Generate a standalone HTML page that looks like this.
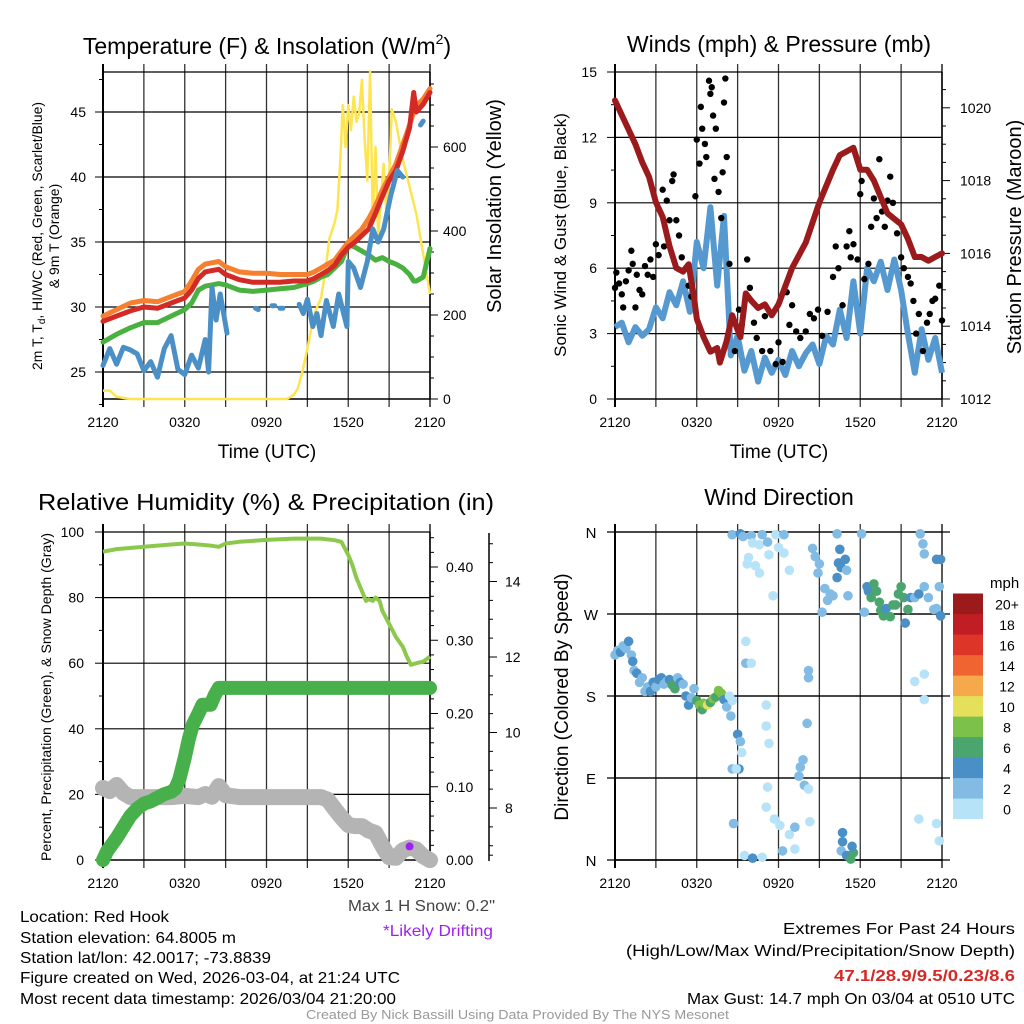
<!DOCTYPE html>
<html><head><meta charset="utf-8">
<style>
html,body{margin:0;padding:0;background:#fff;}
svg{display:block;font-family:"Liberation Sans",sans-serif;}
</style></head>
<body>
<svg id="fig" width="1024" height="1024" viewBox="0 0 1024 1024" xmlns="http://www.w3.org/2000/svg">
<rect x="0" y="0" width="1024" height="1024" fill="#fff"/>
<g id="p1"></g>
<g id="p2"></g>
<g id="p3"></g>
<g id="p4"></g>
<g id="foot">
<text x="20" y="922" font-size="16" textLength="149" lengthAdjust="spacingAndGlyphs">Location: Red Hook</text>
<text x="20" y="943" font-size="16" textLength="216" lengthAdjust="spacingAndGlyphs">Station elevation: 64.8005 m</text>
<text x="20" y="963" font-size="16" textLength="251" lengthAdjust="spacingAndGlyphs">Station lat/lon: 42.0017; -73.8839</text>
<text x="20" y="983" font-size="16" textLength="380" lengthAdjust="spacingAndGlyphs">Figure created on Wed, 2026-03-04, at 21:24 UTC</text>
<text x="20" y="1004" font-size="16" textLength="376" lengthAdjust="spacingAndGlyphs">Most recent data timestamp: 2026/03/04 21:20:00</text>
<text x="348" y="911" font-size="16" fill="#444" textLength="147" lengthAdjust="spacingAndGlyphs">Max 1 H Snow: 0.2"</text>
<text x="383" y="936" font-size="16" fill="#a020f0" textLength="110" lengthAdjust="spacingAndGlyphs">*Likely Drifting</text>
<text x="783" y="934" font-size="16" textLength="232" lengthAdjust="spacingAndGlyphs">Extremes For Past 24 Hours</text>
<text x="626" y="956" font-size="16" textLength="389" lengthAdjust="spacingAndGlyphs">(High/Low/Max Wind/Precipitation/Snow Depth)</text>
<text x="834" y="981" font-size="16" font-weight="bold" fill="#d42a26" textLength="181" lengthAdjust="spacingAndGlyphs">47.1/28.9/9.5/0.23/8.6</text>
<text x="687" y="1004" font-size="16" textLength="328" lengthAdjust="spacingAndGlyphs">Max Gust: 14.7 mph On 03/04 at 0510 UTC</text>
<text x="306" y="1019" font-size="13" fill="#999" textLength="423" lengthAdjust="spacingAndGlyphs">Created By Nick Bassill Using Data Provided By The NYS Mesonet</text>
</g>
</svg>
<script>
// ---------- DATA ----------
const xTickLabels = ["2120","0320","0920","1520","2120"];
const tHours = [0,1,2,3,4,5,6,6.5,7,7.5,8,8.5,9,10,11,12,13,14,15,15.5,16,16.5,17,17.5,18,18.5,19,19.5,20,20.5,21,21.5,22,22.5,22.8,23,23.5,24];
const tempRed = [28.9,29.3,29.7,30.0,29.9,30.3,30.7,31.3,32.2,32.7,32.8,32.9,32.5,32.1,31.9,31.9,31.9,32.0,32.0,32.2,32.5,32.8,33.2,34.0,34.6,35.0,35.5,36.0,37.2,38.5,39.7,40.5,42.0,43.8,46.5,45.0,45.6,46.5];
const temp9m = [29.3,29.8,30.3,30.5,30.4,30.8,31.2,32.0,32.9,33.3,33.4,33.5,33.1,32.7,32.6,32.6,32.5,32.5,32.5,32.7,33.0,33.3,33.6,34.3,35.0,35.5,36.0,36.8,37.8,39.0,40.0,41.0,42.5,44.0,45.0,45.5,46.0,46.8];
const tempHiWc = [27.3,27.9,28.4,28.8,28.8,29.3,29.8,30.3,31.3,31.6,31.7,31.8,31.7,31.3,31.2,31.3,31.4,31.5,31.8,32.0,32.3,32.5,33.0,33.5,34.8,34.6,34.3,34.0,33.6,33.8,33.5,33.3,33.0,32.5,32.0,32.0,32.3,34.5];
const dewHours = [0,0.5,1,1.5,2,2.5,3,3.5,4,4.5,5,5.5,6,6.5,7,7.5,7.75,8.0,8.3,8.6,9.1,9.2,11.2,11.4,11.5,12.4,12.6,12.7,13.0,13.2,13.3,14.4,14.7,15.0,15.4,15.7,16.0,16.4,16.9,17.3,17.9,18.0,18.4,18.9,19.4,19.8,20.2,20.6,21.1,21.6,22.0,22.1,23.3,23.5];
const dewTemps = [25.5,26.8,25.6,26.9,26.7,26.4,25.1,25.8,24.6,26.8,27.8,25.2,24.8,26.3,25.3,27.5,25.0,31.5,29.0,31.0,28.0,null,29.9,29.8,null,30.1,30.1,null,29.9,29.9,null,30.2,29.5,30.6,28.5,29.5,27.8,30.5,28.5,31.0,28.5,33.5,33.0,31.5,33.5,36.0,35.0,36.0,38.5,40.5,40.0,null,44.0,44.3];
const solarHours = [0,0.5,1,2,6,10,13.5,14,14.3,14.6,15,15.3,15.6,16,16.3,16.6,17,17.2,17.4,17.6,17.8,18,18.2,18.4,18.6,18.8,19,19.2,19.4,19.6,19.8,20,20.2,20.4,20.6,20.8,21,21.2,21.5,22,23,24];
const solarVals = [20,20,5,0,0,0,0,10,25,60,120,170,210,240,300,380,420,450,560,700,600,700,640,720,660,680,760,620,520,780,420,600,380,480,560,440,520,690,660,570,440,250];
const windHours = [0,0.5,1,1.5,2,2.5,3,3.5,4,4.5,5,5.5,6,6.5,7,7.5,8,8.5,9,9.5,10,10.5,11,11.5,12,12.5,13,13.5,14,14.5,15,15.5,16,16.5,17,17.5,18,18.5,19,19.5,20,20.5,21,21.5,22,22.5,23,23.5,24];
const windSustained = [3.3,3.5,2.6,3.3,2.9,3.2,4.2,3.7,4.9,4.3,5.4,4.0,7.2,6.0,8.8,5.2,8.4,2.0,2.9,1.3,2.2,0.8,1.9,1.2,1.8,1.1,2.2,1.5,2.1,2.5,1.6,2.9,2.5,4.1,2.8,5.4,3.0,6.0,5.4,6.3,5.0,6.4,5.0,3.0,1.2,3.2,1.8,2.8,1.2];
const pressHours = [0,0.5,1,1.5,2,2.5,3,3.5,4,4.5,5,5.4,5.8,6,6.5,7,7.5,7.7,8.2,8.6,9.0,9.2,9.6,10,10.5,11,11.5,12,13,14,15,16,16.5,17,17.5,18,18.5,19,20,21,21.5,22,22.5,23,23.5,24];
const pressVals = [1020.2,1019.8,1019.4,1019.0,1018.5,1018.1,1017.4,1017.0,1016.2,1015.6,1015.5,1015.7,1014.8,1014.2,1013.7,1013.3,1013.4,1013.0,1013.6,1014.3,1013.9,1013.7,1014.9,1014.7,1014.5,1014.6,1014.3,1014.6,1015.6,1016.3,1017.4,1018.3,1018.7,1018.8,1018.9,1018.3,1018.3,1018.0,1017.1,1016.8,1016.4,1015.9,1015.9,1015.8,1015.9,1016.0];
const gustHours = [0,0.1,0.3,0.5,0.6,0.8,1,1.2,1.3,1.5,1.6,1.8,2,2.2,2.4,2.6,2.8,3,3.2,3.5,3.6,3.8,4,4.2,4.3,4.5,4.7,4.9,5.2,5.4,5.6,5.9,6,6.2,6.3,6.4,6.6,6.7,6.9,7,7.1,7.2,7.4,7.3,7.6,7.8,7.9,8.0,8.1,8.2,8.4,8.6,8.8,9.1,9.3,9.7,9.9,10.2,10.4,10.8,11,11.4,11.8,12,12.3,12.6,12.8,13,13.3,13.6,14,14.3,14.6,14.9,15.2,15.6,16,16.2,16.4,16.7,17,17.2,17.3,17.5,17.8,18,18.1,18.3,18.6,18.8,19,19.2,19.4,19.6,19.8,20,20.2,20.4,20.7,21,21.2,21.5,21.7,21.9,22.1,22.3,22.6,22.9,23.1,23.3,23.5,23.8,24];
const gustSpeeds = [5.1,5.8,5.3,4.8,4.2,5.4,5.9,6.8,6.2,4.2,5.7,5.0,4.8,6.1,5.7,6.4,5.6,7.1,6.6,9.6,7.0,9.1,8.2,10.0,10.3,8.2,7.5,6.5,6.0,5.2,4.7,9.3,11.9,10.8,13.4,12.4,11.7,11.1,14.6,14.0,14.3,13.0,12.4,10.1,9.5,8.3,10.4,13.6,14.7,11.1,6.2,3.8,2.2,4.1,3.4,6.4,5.1,3.5,2.8,2.2,3.8,2.2,1.6,2.6,1.7,4.9,3.4,4.3,3.1,2.8,3.1,3.9,3.7,4.1,2.9,4.0,5.6,7.0,6.0,4.3,7.0,7.7,6.5,7.1,6.4,9.4,10.0,5.5,6.2,7.9,9.2,8.3,11.0,8.6,7.9,9.1,10.2,9.0,7.6,6.5,6.0,5.6,5.3,4.5,3.0,3.9,2.2,3.5,3.9,4.5,4.6,5.2,3.6];
const rhHours = [0,1,3,5,6,7,8,8.5,9,10,12,14,15,16,17,17.5,18,18.3,18.6,19,19.3,19.5,19.8,20,20.3,20.5,21,21.5,22,22.3,22.6,23,23.5,24];
const rhVals = [94,94.8,95.5,96.2,96.5,96.2,95.8,95.5,96.5,97,97.6,98,98,98,97.5,97,93,90,86,82,79,79.5,79,80,79,76,72,68,65,62,59.5,60,60.5,62];
const precipHours = [0,0.3,0.6,1,1.5,2,2.5,3,3.5,4,4.5,5,5.3,5.6,6,6.3,6.6,7,7.3,7.6,7.9,8.2,8.5,9,12,16,20,24];
const precipVals = [0,0.012,0.02,0.03,0.045,0.06,0.07,0.077,0.08,0.085,0.09,0.093,0.097,0.11,0.14,0.165,0.185,0.2,0.212,0.212,0.212,0.225,0.235,0.235,0.235,0.235,0.235,0.235];
const snowHours = [0,0.5,1,1.5,2,3,4,5,6,7,7.5,8,8.5,9,10,12,14,15,16,16.5,17,17.5,18,18.5,19,19.5,20,20.5,21,21.5,22,22.5,23,23.5,24];
const snowDepth = [8.53,8.45,8.61,8.40,8.29,8.29,8.29,8.29,8.32,8.29,8.37,8.30,8.58,8.34,8.29,8.29,8.29,8.29,8.29,8.22,7.98,7.75,7.55,7.52,7.52,7.40,7.34,7.00,6.70,6.68,6.88,6.95,6.90,6.72,6.62];
const dirHours = [0,0.2,0.4,0.6,0.8,1,1.2,1.3,1.4,1.6,1.8,2,2.2,2.4,2.6,2.8,3,3.2,3.4,3.6,3.8,4,4.2,4.4,4.6,4.8,5,5.2,5.4,5.6,5.8,6,6.2,6.4,6.5,6.8,7,7.2,7.4,7.6,7.8,8,8.2,8.4,8.6,8.5,9,9.2,9.3,8.6,9.1,8.9,8.7,9.5,10.1,10.8,8.6,9.2,9.4,10,10.8,11.8,12.4,10.6,11.2,11.3,10.1,9.8,9.7,10.3,10.6,11.6,12,12.4,12.8,9.6,9.6,10,11.1,11.1,11.3,11.2,11.1,11.7,12.1,12.3,12.8,13.2,13.2,13.5,13.6,13.8,13.9,14.2,14.3,14.1,14.2,14.2,14.5,14.7,15,14.9,15.4,15.6,15.8,15.2,16,16.3,16.4,16.6,16.9,17,16.5,16.3,17.1,16.7,16.7,16.6,17,17.3,17.5,17.4,18.1,18.3,18.5,18.6,18.8,19,19.2,19.4,19.5,19.7,19.9,20.2,20.4,20.6,20.8,21,21.2,21.5,21.7,21.3,22,22.3,22.7,23,23.4,23.6,23.9,23.8,22.6,22.7,22.7,22.0,22.7,22.3,23.6,23.8,23.9,23.6,22.4];
const dirDegrees = [225,230,228,235,232,240,225,218,208,205,195,200,185,190,185,195,190,198,200,193,196,198,192,188,200,195,193,180,170,178,188,175,170,165,172,170,173,177,179,186,183,176,168,180,175,158,138,130,118,100,100,100,40,5,2,3,357,358,355,356,357,357,357,346,349,335,348,332,325,323,315,290,343,337,318,240,216,216,170,147,128,80,58,45,38,10,28,36,12,92,102,110,82,78,42,150,200,208,342,333,325,315,298,285,292,272,290,310,326,321,330,318,341,358,290,20,30,10,5,1,8,15,358,272,300,295,288,303,295,283,274,268,276,267,280,280,292,300,288,275,288,260,288,292,300,288,275,276,268,300,347,336,204,196,176,45,40,21,330,330,358];
const dirSpeeds = [2,3,4,2,3,4,2,4,3,4,2,2,2,2,4,4,2,4,4,3,3,4,6,6,3,4,2,4,4,2,2,6,8,6,8,10,6,8,6,8,8,4,3,1,1,3,4,3,1,3,4,1,3,1,4,1,2,4,3,2,2,1,3,1,2,1,1,1,1,1,1,1,1,1,1,1,2,1,1,1,1,1,1,1,1,2,1,3,1,2,2,3,2,1,1,3,2,2,3,3,2,2,2,2,2,2,2,4,4,4,4,2,4,2,3,4,4,3,4,6,6,4,2,2,4,4,6,6,6,6,6,6,4,6,6,6,6,6,6,6,4,4,3,4,2,2,2,2,4,3,3,2,1,1,1,1,1,1,4,4,2,2,1];
const speedColors = ["#b6e3f8","#82bce5","#4a8fc6","#4aa56e","#7cc14a","#e5e05a","#f5a94a","#ef6430","#dd3528","#c01e24","#9b1a1c"];
const speedLabels = ["0","2","4","6","8","10","12","14","16","18","20+"];

// ---------- HELPERS ----------
const NS = "http://www.w3.org/2000/svg";
function mk(tag, attrs, name, parent){
  const el = document.createElementNS(NS, tag);
  for (const k in attrs) el.setAttribute(k, attrs[k]);
  
  
  parent.appendChild(el);
  return el;
}
function txt(s, attrs, name, parent){ const t = mk('text', attrs, name, parent); t.textContent = s; return t; }
function xScale(x0,x1){ return h => x0 + h*(x1-x0)/24; }
function pathFrom(hs, vs, fx, fy){
  let d = "", pen = false;
  for (let i=0;i<hs.length;i++){
    if (vs[i]===null){ pen=false; continue; }
    d += (pen?"L":"M") + fx(hs[i]).toFixed(1) + "," + fy(vs[i]).toFixed(1);
    pen = true;
  }
  return d;
}
function frame(g, x0, x1, y0, y1, hLines, withLabels, name){
  const fx = xScale(x0,x1);
  for (let i=0;i<=8;i++){
    const x = fx(i*3);
    mk('line',{x1:x,y1:y0-8,x2:x,y2:y1+8,stroke: (i===0||i===8)?'#000':'#333','stroke-width':(i===0)?2:1.3}, name+'-vgrid', g);
  }
  hLines.forEach(y=>{ mk('line',{x1:x0,y1:y,x2:x1,y2:y,stroke:'#000','stroke-width':1.2}, name+'-hgrid', g); });
  mk('line',{x1:x0,y1:y1,x2:x1,y2:y1,stroke:'#000','stroke-width':1.5}, name+'-x-axis', g);
  xTickLabels.forEach((lab,i)=>{
    txt(lab,{x:fx(i*6),y:y1+28,'font-size':14,'text-anchor':'middle'}, name+'-x-tick-label', g);
  });
}
function yTicks(g, x, y0, y1, vals, fy, side, len, name){
  vals.forEach(v=>{ const y = fy(v); mk('line',{x1:x,y1:y,x2:x+side*len,y2:y,stroke:'#000','stroke-width':1}, name, g); });
}

// ---------- PANEL 1 ----------
(function(){
  const g = document.getElementById('p1');
  const x0=103,x1=430,y0=72,y1=399;
  const fx = xScale(x0,x1);
  const fyT = t => 399 - (t-22.923)*13;
  const fyS = s => 399 - s*0.42;
  const tt = txt("",{x:267,y:54,'font-size':23,'text-anchor':'middle'}, 'temp-title', g);
  const ta = document.createElementNS(NS,'tspan'); ta.textContent="Temperature (F) & Insolation (W/m"; tt.appendChild(ta);
  const tb = document.createElementNS(NS,'tspan'); tb.textContent="2"; tb.setAttribute('font-size','14'); tb.setAttribute('dy','-10'); tt.appendChild(tb);
  const tc = document.createElementNS(NS,'tspan'); tc.textContent=")"; tc.setAttribute('dy','10'); tt.appendChild(tc);
  frame(g,x0,x1,y0,y1,[fyT(25),fyT(30),fyT(35),fyT(40),fyT(45),y0],true,'temp');
  yTicks(g,x0,y0,y1,[25,30,35,40,45],fyT,-1,8,'temp-major-tick');
  yTicks(g,x0,y0,y1,[22.5,27.5,32.5,37.5,42.5,47.5],fyT,-1,4,'temp-minor-tick');
  [25,30,35,40,45].forEach(v=>txt(String(v),{x:86,y:fyT(v)+5,'font-size':14,'text-anchor':'end'},'temp-y-tick-label',g));
  yTicks(g,x1,y0,y1,[0,200,400,600],fyS,1,8,'solar-major-tick');
  yTicks(g,x1,y0,y1,[50,100,150,250,300,350,450,500,550,650,700,750],fyS,1,4,'solar-minor-tick');
  [0,200,400,600].forEach(v=>txt(String(v),{x:443,y:fyS(v)+5,'font-size':14},'solar-y-tick-label',g));
  mk('line',{x1:x1,y1:y0,x2:x1,y2:y1,stroke:'#000','stroke-width':1.5},'temp-right-axis',g);
  txt("Time (UTC)",{x:267,y:458,'font-size':19,'text-anchor':'middle'},'temp-x-axis-title',g);
  const l1 = txt("",{x:0,y:0,'font-size':14,'text-anchor':'middle',transform:'translate(42,236) rotate(-90)',textLength:268,lengthAdjust:'spacingAndGlyphs'},'temp-y-axis-title',g);
  const t1 = document.createElementNS(NS,'tspan'); t1.textContent="2m T, T"; l1.appendChild(t1);
  const t2 = document.createElementNS(NS,'tspan'); t2.textContent="d"; t2.setAttribute('font-size','10'); t2.setAttribute('dy','3'); l1.appendChild(t2);
  const t3 = document.createElementNS(NS,'tspan'); t3.textContent=", HI/WC (Red, Green, Scarlet/Blue)"; t3.setAttribute('dy','-3'); l1.appendChild(t3);
  txt("& 9m T (Orange)",{x:0,y:0,'font-size':14,'text-anchor':'middle',transform:'translate(59,236) rotate(-90)'},'temp-y-axis-title-2',g);
  txt("Solar Insolation (Yellow)",{x:0,y:0,'font-size':20,'text-anchor':'middle',transform:'translate(501,206) rotate(-90)'},'solar-y-axis-title',g);
  mk('path',{d:pathFrom(solarHours,solarVals,fx,fyS),fill:'none',stroke:'#fde54f','stroke-width':2.5,'stroke-linejoin':'round'},'solar-line',g);
  mk('path',{d:pathFrom(tHours,tempHiWc,fx,fyT),fill:'none',stroke:'#4ab040','stroke-width':5,'stroke-linejoin':'round','stroke-linecap':'round'},'hiwc-line',g);
  mk('path',{d:pathFrom(tHours,temp9m,fx,fyT),fill:'none',stroke:'#f58030','stroke-width':5,'stroke-linejoin':'round','stroke-linecap':'round'},'temp-9m-line',g);
  mk('path',{d:pathFrom(tHours,tempRed,fx,fyT),fill:'none',stroke:'#d42a26','stroke-width':5,'stroke-linejoin':'round','stroke-linecap':'round'},'temp-2m-line',g);
  mk('path',{d:pathFrom(dewHours,dewTemps,fx,fyT),fill:'none',stroke:'#4a8fc6','stroke-width':5,'stroke-linejoin':'round','stroke-linecap':'round'},'dewpoint-line',g);
})();

// ---------- PANEL 2 ----------
(function(){
  const g = document.getElementById('p2');
  const x0=615,x1=942,y0=72,y1=399;
  const fx = xScale(x0,x1);
  const fyW = w => 399 - w*21.8;
  const fyP = p => 399 - (p-1012)*36.4;
  txt("Winds (mph) & Pressure (mb)",{x:779,y:52,'font-size':23,'text-anchor':'middle'},'winds-title',g);
  frame(g,x0,x1,y0,y1,[fyW(3),fyW(6),fyW(9),fyW(12),fyW(15)],true,'winds');
  yTicks(g,x0,y0,y1,[0,3,6,9,12,15],fyW,-1,8,'wind-major-tick');
  yTicks(g,x0,y0,y1,[1.5,4.5,7.5,10.5,13.5],fyW,-1,4,'wind-minor-tick');
  [0,3,6,9,12,15].forEach(v=>txt(String(v),{x:597,y:fyW(v)+5,'font-size':14,'text-anchor':'end'},'wind-y-tick-label',g));
  yTicks(g,x1,y0,y1,[1012,1014,1016,1018,1020],fyP,1,8,'pressure-major-tick');
  yTicks(g,x1,y0,y1,[1012.5,1013,1013.5,1014.5,1015,1015.5,1016.5,1017,1017.5,1018.5,1019,1019.5,1020.5],fyP,1,4,'pressure-minor-tick');
  [1012,1014,1016,1018,1020].forEach(v=>txt(String(v),{x:960,y:fyP(v)+5,'font-size':14},'pressure-y-tick-label',g));
  mk('line',{x1:x1,y1:y0,x2:x1,y2:y1,stroke:'#000','stroke-width':1.5},'winds-right-axis',g);
  txt("Time (UTC)",{x:779,y:458,'font-size':19,'text-anchor':'middle'},'winds-x-axis-title',g);
  txt("Sonic Wind & Gust (Blue, Black)",{x:0,y:0,'font-size':17,'text-anchor':'middle',transform:'translate(566,235) rotate(-90)'},'wind-y-axis-title',g);
  txt("Station Pressure (Maroon)",{x:0,y:0,'font-size':20,'text-anchor':'middle',transform:'translate(1021,237) rotate(-90)'},'pressure-y-axis-title',g);
  mk('path',{d:pathFrom(windHours,windSustained,fx,fyW),fill:'none',stroke:'#5599d0','stroke-width':6,'stroke-linejoin':'round'},'sustained-wind-line',g);
  gustHours.forEach((h,i)=>{ mk('circle',{cx:fx(h),cy:fyW(gustSpeeds[i]),r:3.2,fill:'#000'},'gust-point',g); });
  mk('path',{d:pathFrom(pressHours,pressVals,fx,fyP),fill:'none',stroke:'#9b1a1c','stroke-width':6,'stroke-linejoin':'round','stroke-linecap':'round'},'pressure-line',g);
})();

// ---------- PANEL 3 ----------
(function(){
  const g = document.getElementById('p3');
  const x0=103,x1=430,y0=532,y1=860;
  const fx = xScale(x0,x1);
  const fyR = v => 860 - v*3.28;
  const fyPr = p => 860 - p*732.5;
  const fySn = d => 808 - (d-8)*37.75;
  txt("Relative Humidity (%) & Precipitation (in)",{x:38,y:510,'font-size':23,textLength:456,lengthAdjust:'spacingAndGlyphs'},'humidity-title',g);
  frame(g,x0,x1,y0,y1,[fyR(20),fyR(40),fyR(60),fyR(80),fyR(100)],true,'humidity');
  yTicks(g,x0,y0,y1,[0,20,40,60,80,100],fyR,-1,8,'rh-major-tick');
  yTicks(g,x0,y0,y1,[10,30,50,70,90],fyR,-1,4,'rh-minor-tick');
  [0,20,40,60,80,100].forEach(v=>txt(String(v),{x:84,y:fyR(v)+5,'font-size':14,'text-anchor':'end'},'rh-y-tick-label',g));
  yTicks(g,x1,y0,y1,[0,0.1,0.2,0.3,0.4],fyPr,1,8,'precip-major-tick');
  yTicks(g,x1,y0,y1,[0.02,0.04,0.06,0.08,0.12,0.14,0.16,0.18,0.22,0.24,0.26,0.28,0.32,0.34,0.36,0.38,0.42,0.44],fyPr,1,4,'precip-minor-tick');
  ["0.00","0.10","0.20","0.30","0.40"].forEach((lab,i)=>txt(lab,{x:446,y:fyPr(i*0.1)+5,'font-size':14},'precip-y-tick-label',g));
  mk('line',{x1:x1,y1:y0,x2:x1,y2:y1,stroke:'#000','stroke-width':1.5},'humidity-right-axis',g);
  mk('line',{x1:489,y1:533,x2:489,y2:861,stroke:'#000','stroke-width':1.5},'snow-axis',g);
  yTicks(g,489,y0,y1,[8,10,12,14],fySn,1,8,'snow-major-tick');
  yTicks(g,489,y0,y1,[6.75,7,7.5,8.5,9,9.5,10.5,11,11.5,12.5,13,13.5,14.5,15],fySn,1,4,'snow-minor-tick');
  [8,10,12,14].forEach(v=>txt(String(v),{x:505,y:fySn(v)+5,'font-size':14},'snow-y-tick-label',g));
  txt("Percent, Precipitation (Green), & Snow Depth (Gray)",{x:0,y:0,'font-size':13.5,'text-anchor':'middle',transform:'translate(51,697) rotate(-90)',textLength:328,lengthAdjust:'spacingAndGlyphs'},'humidity-y-axis-title',g);
  mk('path',{d:pathFrom(snowHours,snowDepth,fx,fySn),fill:'none',stroke:'#b4b4b4','stroke-width':16,'stroke-linejoin':'round','stroke-linecap':'round'},'snow-depth-line',g);
  mk('path',{d:pathFrom(precipHours,precipVals,fx,fyPr),fill:'none',stroke:'#48b04a','stroke-width':14,'stroke-linejoin':'round','stroke-linecap':'round'},'precip-line',g);
  mk('path',{d:pathFrom(rhHours,rhVals,fx,fyR),fill:'none',stroke:'#8cc84b','stroke-width':4,'stroke-linejoin':'round'},'rh-line',g);
  mk('circle',{cx:fx(22.5),cy:fySn(6.93)-2,r:4,fill:'#a020f0'},'drifting-marker',g);
})();

// ---------- PANEL 4 ----------
(function(){
  const g = document.getElementById('p4');
  const x0=615,x1=942,y0=532,y1=860;
  const fx = xScale(x0,x1);
  const fyD = d => 860 - d*328/360;
  txt("Wind Direction",{x:779,y:505,'font-size':23,'text-anchor':'middle'},'wind-direction-title',g);
  frame(g,x0,x1,y0,y1,[fyD(0),fyD(90),fyD(180),fyD(270),fyD(360)],true,'direction');
  const dirLabels = ["N","E","S","W","N"];
  [0,90,180,270,360].forEach((d,i)=>{
    mk('line',{x1:x0-8,y1:fyD(d),x2:x1+8,y2:fyD(d),stroke:'#000','stroke-width':1.2},'direction-tick',g);
    txt(dirLabels[i],{x:591,y:fyD(d)+6,'font-size':15,'text-anchor':'middle'},'direction-y-tick-label',g);
  });
  txt("Direction (Colored By Speed)",{x:0,y:0,'font-size':19,'text-anchor':'middle',transform:'translate(568,697) rotate(-90)'},'direction-y-axis-title',g);
  dirHours.forEach((h,i)=>{
    const bin = Math.min(10, Math.floor(dirSpeeds[i]/2));
    mk('circle',{cx:fx(h),cy:fyD(dirDegrees[i]),r:4.8,fill:speedColors[bin]},'direction-point',g);
  });
  txt("mph",{x:990,y:588,'font-size':15},'colorbar-title',g);
  speedColors.forEach((c,i)=>{
    const y = 819 - (i+1)*20.5;
    mk('rect',{x:953,y:y,width:30,height:20.6,fill:c},'colorbar-box',g);
    txt(speedLabels[i],{x:1007,y:y+16,'font-size':14,'text-anchor':'middle'},'colorbar-label',g);
  });
})();
</script>
</body></html>
